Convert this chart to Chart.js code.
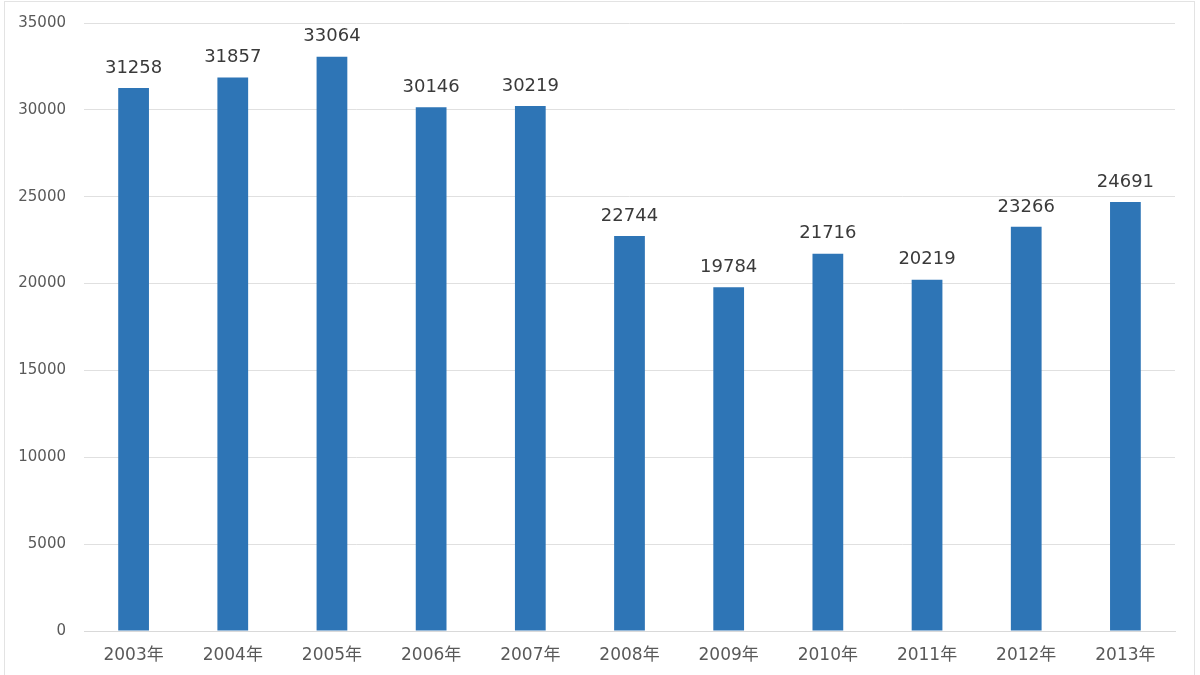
<!DOCTYPE html>
<html>
<head>
<meta charset="utf-8">
<script src="https://cdn.jsdelivr.net/npm/chart.js@4/dist/chart.umd.min.js"></script>
<style>
html,body{margin:0;padding:0;background:#fff;}
#wrap{width:1200px;height:675px;position:relative;}
</style>
</head>
<body>
<div id="wrap"><canvas id="c" width="1200" height="675"></canvas></div>
<script>
const categories = ["2003年","2004年","2005年","2006年","2007年","2008年","2009年","2010年","2011年","2012年","2013年"];
const values = [31258,31857,33064,30146,30219,22744,19784,21716,20219,23266,24691];
const yTicks = [0,5000,10000,15000,20000,25000,30000,35000];

const FONT = '"DejaVu Sans", "Noto Sans CJK JP", sans-serif';

const frame = {
  id: 'frame',
  beforeDraw(chart) {
    const ctx = chart.ctx;
    ctx.save();
    ctx.fillStyle = '#fff';
    ctx.fillRect(0, 0, chart.width, chart.height);
    ctx.strokeStyle = '#e3e3e3';
    ctx.lineWidth = 1;
    ctx.strokeRect(4.5, 1.5, 1190, 680);
    ctx.restore();
  }
};

const dataLabels = {
  id: 'dataLabels',
  afterDatasetsDraw(chart) {
    const ctx = chart.ctx;
    const meta = chart.getDatasetMeta(0);
    ctx.save();
    ctx.font = '18px ' + FONT;
    ctx.fillStyle = '#3a3a3a';
    ctx.textAlign = 'center';
    ctx.textBaseline = 'bottom';
    meta.data.forEach((bar, i) => {
      const p = bar.getProps(['x','y'], true);
      ctx.fillText(String(chart.data.datasets[0].data[i]), p.x, p.y - 11);
    });
    ctx.restore();
  }
};

new Chart(document.getElementById('c'), {
  type: 'bar',
  data: {
    labels: categories,
    datasets: [{
      data: values,
      backgroundColor: '#2E75B6',
      borderWidth: 0,
      categoryPercentage: 1.0,
      barPercentage: 0.31
    }]
  },
  options: {
    responsive: false,
    animation: false,
    devicePixelRatio: 1,
    layout: { padding: { top: 23, right: 25, bottom: 0, left: 0 } },
    plugins: { legend: { display: false }, tooltip: { enabled: false } },
    scales: {
      x: {
        grid: { display: false, drawTicks: false },
        border: { display: true, color: '#d9d9d9', width: 1 },
        ticks: { color: '#595959', font: { size: 17, family: FONT }, padding: 14, maxRotation: 0 },
        afterFit(scale) { scale.height = 44; }
      },
      y: {
        min: 0, max: 35000,
        grid: { color: '#e0e0e0', lineWidth: 1, drawTicks: false },
        border: { display: false },
        afterBuildTicks(scale) { scale.ticks = yTicks.map(v => ({ value: v })); },
        ticks: { color: '#595959', font: { size: 15, family: FONT }, padding: 18,
                 callback: (v) => String(v) },
        afterFit(scale) { scale.width = 84; scale.paddingTop = 0; scale.paddingBottom = 0; }
      }
    }
  },
  plugins: [frame, dataLabels]
});
</script>
</body>
</html>
